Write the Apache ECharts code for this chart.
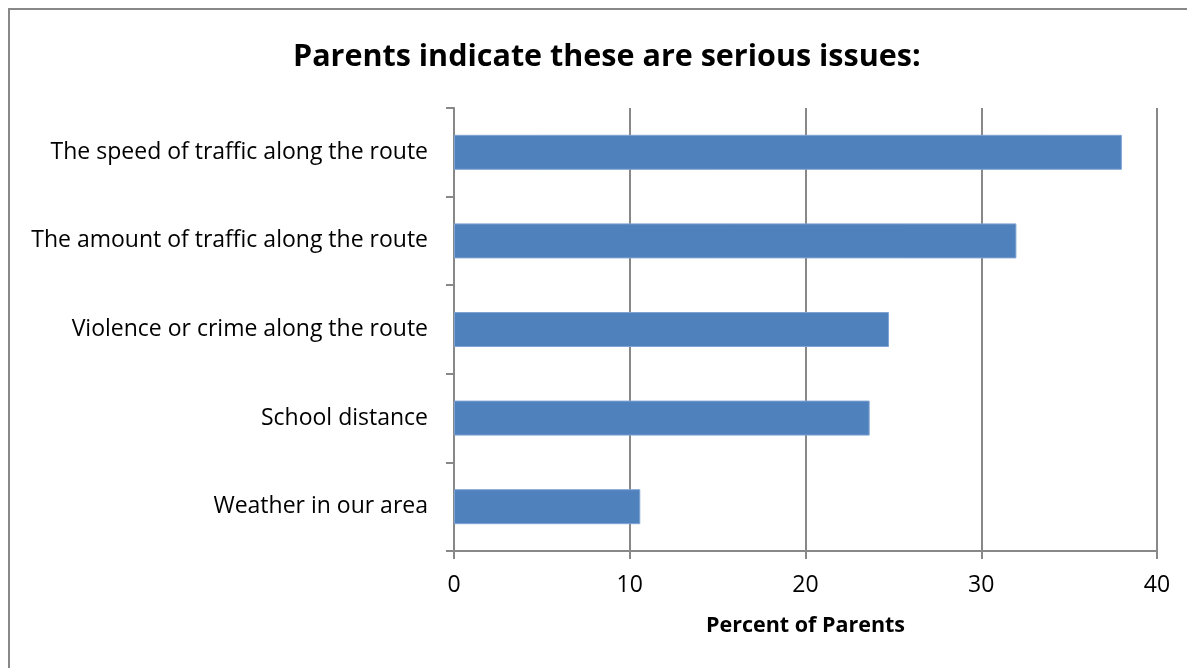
<!DOCTYPE html>
<html><head><meta charset="utf-8">
<script src="https://cdn.jsdelivr.net/npm/echarts@6/dist/echarts.min.js"></script>
<style>html,body{margin:0;padding:0;background:#fff}#c{width:1187px;height:668px}</style>
</head><body><div id="c"></div>
<script>
const categories = ["The speed of traffic along the route","The amount of traffic along the route","Violence or crime along the route","School distance","Weather in our area"];
const values = [38, 32, 24.75, 23.65, 10.6];
const xTicks = [0, 10, 20, 30, 40];
const titleText = "Parents indicate these are serious issues:";
const xName = "Percent of Parents";

const chart = echarts.init(document.getElementById('c'));
const F = "Open Sans";
chart.setOption({
  animation: false,
  backgroundColor: '#fff',
  graphic: [{type:'rect', shape:{x:9, y:9, width:1200, height:700}, style:{fill:'none', stroke:'#888', lineWidth:2}, silent:true}],
  title: {text: titleText, left: 288, top: 37, textStyle:{fontFamily:F, fontWeight:'bold', fontSize:30.5, color:'#000'}},
  grid: {left:454, right:30, top:108, bottom:117, containLabel:false},
  xAxis: {type:'value', min:xTicks[0], max:xTicks[xTicks.length-1], interval:10,
    name: xName, nameLocation:'middle', nameGap:64,
    nameTextStyle:{fontFamily:F, fontWeight:'bold', fontSize:21.5, color:'#000'},
    axisLine:{show:true, lineStyle:{color:'#888', width:2}},
    axisTick:{show:true, length:8, lineStyle:{color:'#888', width:2}},
    axisLabel:{fontFamily:F, fontSize:23, color:'#000', margin:23},
    splitLine:{show:true, lineStyle:{color:'#888', width:2}}},
  yAxis: {type:'category', data:categories, inverse:true,
    axisLine:{show:true, lineStyle:{color:'#888', width:2}},
    axisTick:{show:true, length:8, lineStyle:{color:'#888', width:2}},
    axisLabel:{fontFamily:F, fontSize:23, color:'#000', margin:26}},
  series: [{type:'bar', data:values, barWidth:35, itemStyle:{color:'#4F81BD', borderColor:'#7fa3d3', borderWidth:1}}]
});
</script></body></html>
